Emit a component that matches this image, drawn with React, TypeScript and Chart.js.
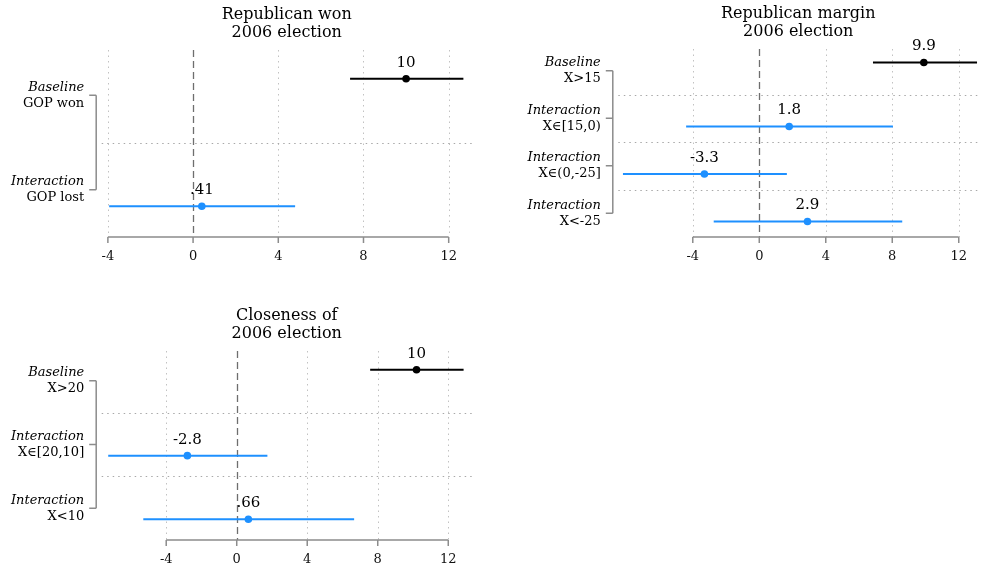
import React, { useEffect, useRef } from "react";
import { Chart, registerables } from "chart.js";

Chart.register(...registerables);

const FONT = '"DejaVu Serif", "Liberation Serif", serif';
const BASE_COLOR = "#000000";
const INTER_COLOR = "#1e90ff";
const TEXT_COLOR = "#000000";

// Shared x-axis ticks
const xTicks = [-4, 0, 4, 8, 12];

// Republican won 2006 election
const wonTitle = ["Republican won", "2006 election"];
const wonGroups = ["Baseline", "Interaction"];
const wonRows = ["GOP won", "GOP lost"];
const wonEst = [10, 0.41];
const wonLow = [7.37, -3.94];
const wonHigh = [12.69, 4.79];

// Republican margin 2006 election
const marginTitle = ["Republican margin", "2006 election"];
const marginGroups = ["Baseline", "Interaction", "Interaction", "Interaction"];
const marginRows = ["X>15", "X∈[15,0)", "X∈(0,-25]", "X<-25"];
const marginEst = [9.9, 1.8, -3.3, 2.9];
const marginLow = [6.84, -4.4, -8.2, -2.74];
const marginHigh = [13.1, 8.04, 1.66, 8.6];

// Closeness of 2006 election
const closeTitle = ["Closeness of", "2006 election"];
const closeGroups = ["Baseline", "Interaction", "Interaction"];
const closeRows = ["X>20", "X∈[20,10]", "X<10"];
const closeEst = [10.2, -2.8, 0.66];
const closeLow = [7.57, -7.29, -5.3];
const closeHigh = [12.87, 1.74, 6.66];

// Estimates sit slightly off their label row: baseline above, interactions below
const ROW_SHIFT = 0.175;

type PanelSpec = {
  title: string[];
  groups: string[];
  rows: string[];
  est: number[];
  low: number[];
  high: number[];
  xMin: number;
  xMax: number;
  box: { left: number; top: number; width: number; height: number };
  padding: { left: number; right: number; top: number; bottom: number };
};

const panels: PanelSpec[] = [
  {
    title: wonTitle, groups: wonGroups, rows: wonRows,
    est: wonEst, low: wonLow, high: wonHigh,
    xMin: -4.29, xMax: 13.08,
    box: { left: 0, top: 0, width: 490, height: 280 },
    padding: { left: 101.7, right: 18.3, top: 48, bottom: 3 },
  },
  {
    title: marginTitle, groups: marginGroups, rows: marginRows,
    est: marginEst, low: marginLow, high: marginHigh,
    xMin: -8.48, xMax: 13.17,
    box: { left: 490, top: 0, width: 492, height: 280 },
    padding: { left: 128.3, right: 2, top: 47, bottom: 3 },
  },
  {
    title: closeTitle, groups: closeGroups, rows: closeRows,
    est: closeEst, low: closeLow, high: closeHigh,
    xMin: -7.66, xMax: 13.33,
    box: { left: 0, top: 290, width: 490, height: 300 },
    padding: { left: 101.7, right: 18.3, top: 59, bottom: 10 },
  },
];

// Two significant digits, leading zero dropped (".41")
function fmt(v: number): string {
  let s = Number(v.toPrecision(2)).toString();
  s = s.replace(/^0\./, ".").replace(/^-0\./, "-.");
  return s;
}

function rowY(i: number): number {
  return i === 0 ? 1 - ROW_SHIFT : i + 1 + ROW_SHIFT;
}

function makeDecor(spec: PanelSpec) {
  const n = spec.rows.length;
  return {
    id: "coefDecor",
    beforeDatasetsDraw(chart: any) {
      const { ctx, chartArea: a } = chart;
      const x = chart.scales.x;
      const y = chart.scales.y;
      ctx.save();

      // vertical reference lines
      for (const v of xTicks) {
        const px = Math.round(x.getPixelForValue(v)) + 0.5;
        ctx.beginPath();
        if (v === 0) {
          ctx.strokeStyle = "#6e6e6e";
          ctx.lineWidth = 1.3;
          ctx.setLineDash([7, 4]);
        } else {
          ctx.strokeStyle = "#c2c2c2";
          ctx.lineWidth = 1;
          ctx.setLineDash([1.5, 4]);
        }
        ctx.moveTo(px, a.top + 2);
        ctx.lineTo(px, a.bottom);
        ctx.stroke();
      }

      // row separators
      ctx.setLineDash([1.5, 4]);
      ctx.strokeStyle = "#a8a8a8";
      ctx.lineWidth = 1;
      for (let k = 1; k < n; k++) {
        const py = Math.round(y.getPixelForValue(k + 0.5)) + 0.5;
        ctx.beginPath();
        ctx.moveTo(a.left, py);
        ctx.lineTo(a.right, py);
        ctx.stroke();
      }

      // axis line with downward ticks
      ctx.setLineDash([]);
      ctx.strokeStyle = "#8c8c8c";
      ctx.lineWidth = 1.5;
      const ax0 = x.getPixelForValue(xTicks[0]);
      const ax1 = x.getPixelForValue(xTicks[xTicks.length - 1]);
      ctx.beginPath();
      ctx.moveTo(ax0, a.bottom);
      ctx.lineTo(ax1, a.bottom);
      for (const v of xTicks) {
        const px = x.getPixelForValue(v);
        ctx.moveTo(px, a.bottom);
        ctx.lineTo(px, a.bottom + 6);
      }
      ctx.stroke();

      // bracket joining the row labels
      const bx = a.left - 5.5;
      const yTop = y.getPixelForValue(1);
      const yBot = y.getPixelForValue(n);
      ctx.strokeStyle = "#8c8c8c";
      ctx.lineWidth = 1.5;
      ctx.beginPath();
      ctx.moveTo(bx, yTop);
      ctx.lineTo(bx, yBot);
      for (let k = 1; k <= n; k++) {
        const py = y.getPixelForValue(k);
        ctx.moveTo(bx - 7, py);
        ctx.lineTo(bx, py);
      }
      ctx.stroke();

      // row labels
      ctx.textAlign = "right";
      ctx.textBaseline = "middle";
      ctx.fillStyle = TEXT_COLOR;
      spec.rows.forEach((r, i) => {
        const py = y.getPixelForValue(i + 1);
        ctx.font = `italic 13px ${FONT}`;
        ctx.fillText(spec.groups[i], bx - 12, py - 8);
        ctx.font = `13px ${FONT}`;
        ctx.fillText(r, bx - 12, py + 8);
      });

      // panel title
      ctx.textAlign = "center";
      ctx.font = `16px ${FONT}`;
      const cx = (a.left + a.right) / 2;
      spec.title.forEach((t, i) => {
        ctx.fillText(t, cx, a.top - 33 + i * 18);
      });
      ctx.restore();
    },
    afterDatasetsDraw(chart: any) {
      const { ctx } = chart;
      const meta = chart.getDatasetMeta(chart.data.datasets.length - 1);
      ctx.save();
      ctx.font = `15px ${FONT}`;
      ctx.textAlign = "center";
      ctx.textBaseline = "middle";
      ctx.fillStyle = TEXT_COLOR;
      meta.data.forEach((pt: any, i: number) => {
        ctx.fillText(fmt(spec.est[i]), pt.x, pt.y - 16);
      });
      ctx.restore();
    },
  };
}

function buildConfig(spec: PanelSpec): any {
  const n = spec.rows.length;
  const colors = spec.rows.map((_, i) => (i === 0 ? BASE_COLOR : INTER_COLOR));
  const intervals = spec.rows.map((_, i) => ({
    data: [
      { x: spec.low[i], y: rowY(i) },
      { x: spec.high[i], y: rowY(i) },
    ],
    showLine: true,
    borderColor: colors[i],
    borderWidth: 2,
    pointRadius: 0,
    pointHoverRadius: 0,
  }));
  const points = {
    data: spec.est.map((v, i) => ({ x: v, y: rowY(i) })),
    showLine: false,
    pointRadius: 3.8,
    pointHoverRadius: 3.8,
    pointBorderWidth: 0,
    pointBackgroundColor: colors,
    pointBorderColor: colors,
  };
  return {
    type: "scatter",
    data: { datasets: [...intervals, points] },
    options: {
      responsive: false,
      animation: false,
      events: [],
      layout: { padding: spec.padding },
      plugins: {
        legend: { display: false },
        tooltip: { enabled: false },
        title: { display: false },
      },
      scales: {
        x: {
          type: "linear",
          min: spec.xMin,
          max: spec.xMax,
          afterBuildTicks: (axis: any) => {
            axis.ticks = xTicks.map((v) => ({ value: v }));
          },
          grid: { display: false, drawTicks: false },
          border: { display: false },
          ticks: {
            autoSkip: false,
            maxRotation: 0,
            padding: 12.2,
            color: "#111111",
            font: { family: FONT, size: 13, lineHeight: 1.2 },
            callback: (v: any) => String(v),
          },
        },
        y: {
          type: "linear",
          display: false,
          reverse: true,
          min: 0.5,
          max: n + 0.5,
        },
      },
    },
    plugins: [makeDecor(spec)],
  };
}

function CoefPanel({ spec }: { spec: PanelSpec }) {
  const ref = useRef<HTMLCanvasElement>(null);
  useEffect(() => {
    if (!ref.current) return;
    const chart = new Chart(ref.current, buildConfig(spec));
    return () => chart.destroy();
  }, [spec]);
  const { left, top, width, height } = spec.box;
  return (
    <canvas
      ref={ref}
      width={width}
      height={height}
      style={{ position: "absolute", left, top, width, height }}
    />
  );
}

export default function App() {
  return (
    <div
      style={{
        position: "absolute",
        left: 0,
        top: 0,
        width: 982,
        height: 574,
        overflow: "hidden",
        background: "#ffffff",
      }}
    >
      {panels.map((p, i) => (
        <CoefPanel key={i} spec={p} />
      ))}
    </div>
  );
}
